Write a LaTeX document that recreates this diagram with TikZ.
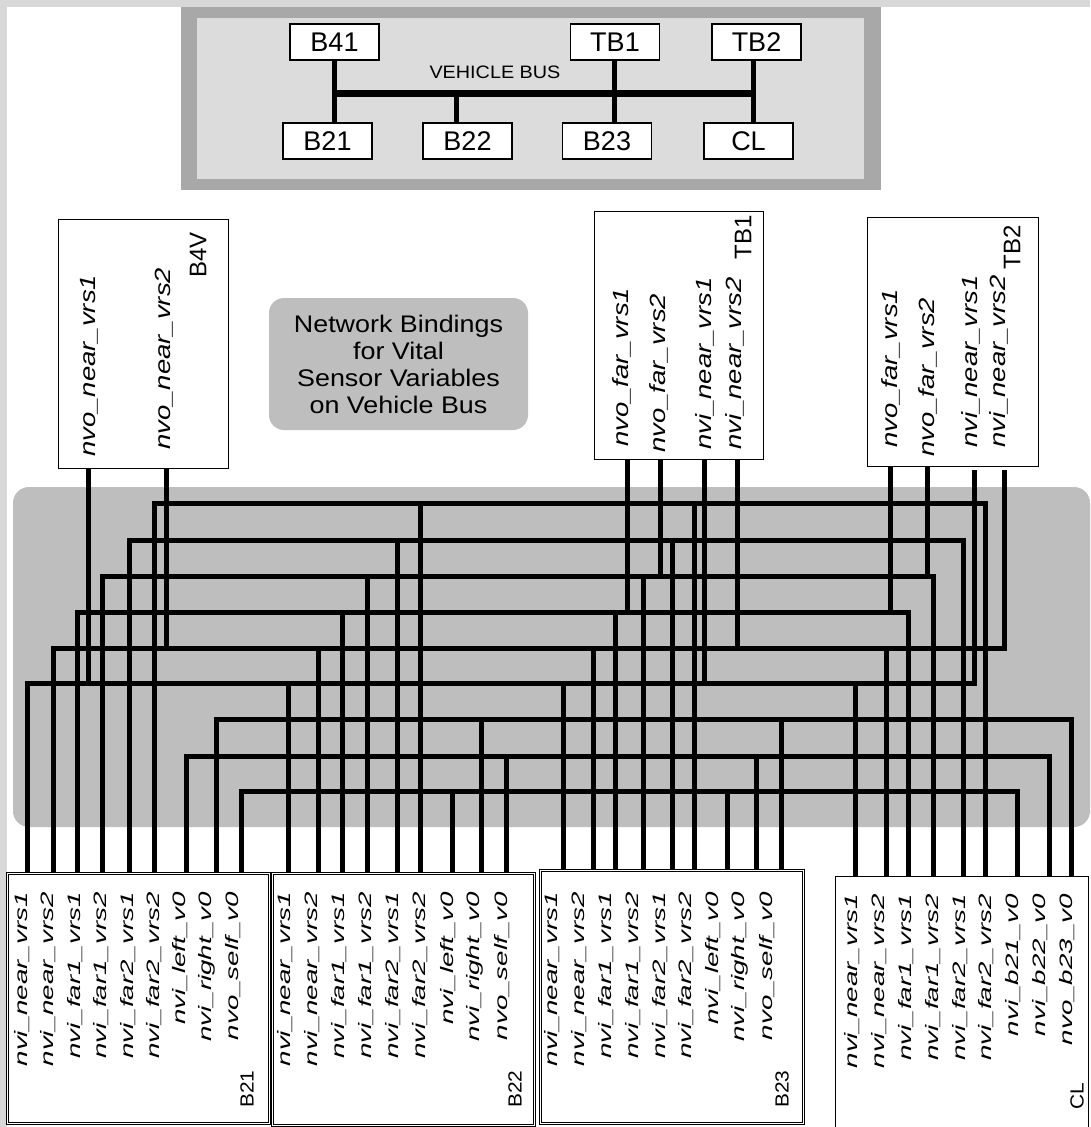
\documentclass[tikz,border=0pt]{standalone}
\usepackage{fontspec}
\setmainfont{Liberation Sans}
\usepackage{graphicx}
\definecolor{regiongray}{HTML}{BEBEBE}
\definecolor{paneldark}{HTML}{A8A8A8}
\definecolor{panellight}{HTML}{DCDCDC}
\definecolor{margingray}{HTML}{D8D8D8}
\newcommand\sx[2]{\scalebox{#1}[1]{#2}}
\begin{document}
\begin{tikzpicture}[x=1pt,y=-1pt,
  wire/.style={line width=5pt,line join=miter},
  box/.style={draw,line width=1.4pt,fill=white,inner sep=0pt,anchor=north west},
  dbox/.style={box,line width=0.8pt,double,double distance=0.9pt},
  tbox/.style={draw,line width=1.3pt,fill=white,inner sep=0pt,minimum width=89pt,minimum height=36pt,font=\fontsize{27}{27}\selectfont},
  blab/.style={rotate=90,anchor=east,inner sep=0pt,font=\fontsize{18}{18}\selectfont\itshape},
  mlab/.style={rotate=90,anchor=west,inner sep=0pt,font=\fontsize{22}{22}\selectfont\itshape},
  bttl/.style={rotate=90,anchor=west,inner sep=0pt,font=\fontsize{19}{19}\selectfont},
  mttl/.style={rotate=90,anchor=east,inner sep=0pt,font=\fontsize{24}{24}\selectfont}]
\useasboundingbox (0,0) rectangle (1090,1127);
% background
\fill[margingray] (0,0) rectangle (1090,1127);
\fill[white] (7,7) rectangle (1090,1127);

% ---------- top panel ----------
\fill[paneldark] (181,7) rectangle (881,190);
\fill[panellight] (197,18) rectangle (864,179);
\node[tbox] (tB41) at (334.5,42) {B41};
\node[tbox] (tTB1) at (615,42) {TB1};
\node[tbox] (tTB2) at (756.5,42) {TB2};
\node[tbox] (tB21) at (327.5,141) {B21};
\node[tbox] (tB22) at (467.5,141) {B22};
\node[tbox] (tB23) at (607,141) {B23};
\node[tbox] (tCL) at (748.5,141) {CL};
\coordinate (busL) at (334,93);
\coordinate (busR) at (754,93);
\draw[line width=7pt] (busL) -- (busR);
\draw[line width=5pt] (334,0 |- tB41.south) -- (334,0 |- tB21.north);
\draw[line width=5pt] (456,93) -- (456,0 |- tB22.north);
\draw[line width=5pt] (614,0 |- tTB1.south) -- (614,0 |- tB23.north);
\draw[line width=5pt] (753,0 |- tTB2.south) -- (753,0 |- tCL.north);
\node[font=\fontsize{18}{18}\selectfont] (vb) at (495,72) {\sx{1.1}{VEHICLE BUS}};

% ---------- routing region ----------
\fill[regiongray,rounded corners=16pt] (13,487) rectangle (1090,827);

% ---------- boxes ----------
\node[box,minimum width=170pt,minimum height=249pt] (B4V) at (58,219) {};
\node[box,minimum width=169pt,minimum height=248pt] (TB1) at (594,211) {};
\node[box,minimum width=171pt,minimum height=249pt] (TB2) at (867,217) {};
\node[dbox,minimum width=262pt,minimum height=250pt] (B21) at (7,873) {};
\node[dbox,minimum width=262pt,minimum height=252pt] (B22) at (272,873) {};
\node[dbox,minimum width=263pt,minimum height=253pt] (B23) at (540,870) {};
\node[box,minimum width=253pt,minimum height=262pt] (CL) at (835,876) {};
\coordinate (tbin1) at (974,470);
\coordinate (tbin2) at (1004,470);

% ---------- nets ----------
% near_vrs1 (y=683)
\draw[wire] (27,0 |- B21.north) -- (27,683) -- (974,683) -- (tbin1);
\draw[wire] (88,0 |- B4V.south) -- (88,683);
\draw[wire] (704,0 |- TB1.south) -- (704,683);
\foreach \x/\n in {288/B22,563/B23,855/CL} \draw[wire] (\x,683) -- (\x,0 |- \n.north);
% near_vrs2 (y=648)
\draw[wire] (53,0 |- B21.north) -- (53,648) -- (1004,648) -- (tbin2);
\draw[wire] (166,0 |- B4V.south) -- (166,648);
\draw[wire] (737,0 |- TB1.south) -- (737,648);
\foreach \x/\n in {318/B22,593/B23,886/CL} \draw[wire] (\x,648) -- (\x,0 |- \n.north);
% y=612
\draw[wire] (77,0 |- B21.north) -- (77,612) -- (908,612) -- (908,0 |- CL.north);
\draw[wire] (627,0 |- TB1.south) -- (627,612);
\draw[wire] (890,0 |- TB2.south) -- (890,612);
\foreach \x/\n in {342/B22,615/B23} \draw[wire] (\x,612) -- (\x,0 |- \n.north);
% y=576
\draw[wire] (102,0 |- B21.north) -- (102,576) -- (933,576) -- (933,0 |- CL.north);
\draw[wire] (660,0 |- TB1.south) -- (660,576);
\draw[wire] (927,0 |- TB2.south) -- (927,576);
\foreach \x/\n in {367/B22,643/B23} \draw[wire] (\x,576) -- (\x,0 |- \n.north);
% y=540
\draw[wire] (129,0 |- B21.north) -- (129,540) -- (963,540) -- (963,0 |- CL.north);
\foreach \x/\n in {397/B22,672/B23} \draw[wire] (\x,540) -- (\x,0 |- \n.north);
% y=503
\draw[wire] (154,0 |- B21.north) -- (154,503) -- (985,503) -- (985,0 |- CL.north);
\foreach \x/\n in {420/B22,694/B23} \draw[wire] (\x,503) -- (\x,0 |- \n.north);
% y=719
\draw[wire] (216,0 |- B21.north) -- (216,719) -- (1071,719) -- (1071,0 |- CL.north);
\foreach \x/\n in {481/B22,781/B23} \draw[wire] (\x,719) -- (\x,0 |- \n.north);
% y=756
\draw[wire] (186,0 |- B21.north) -- (186,756) -- (1049,756) -- (1049,0 |- CL.north);
\foreach \x/\n in {506/B22,756/B23} \draw[wire] (\x,756) -- (\x,0 |- \n.north);
% y=791
\draw[wire] (241,0 |- B21.north) -- (241,791) -- (1017,791) -- (1017,0 |- CL.north);
\foreach \x/\n in {452/B22,727/B23} \draw[wire] (\x,791) -- (\x,0 |- \n.north);

% ---------- middle labels ----------
\node[mlab] (l41a) at (89,457) {\sx{1.25}{nvo\_near\_vrs1}};
\node[mlab] (l41b) at (164,450) {\sx{1.25}{nvo\_near\_vrs2}};
\node[mttl] (t41) at (198,232) {B4V};
\node[mlab] (lt1a) at (622,447) {\sx{1.25}{nvo\_far\_vrs1}};
\node[mlab] (lt1b) at (659,453) {\sx{1.25}{nvo\_far\_vrs2}};
\node[mlab] (lt1c) at (705,450) {\sx{1.25}{nvi\_near\_vrs1}};
\node[mlab] (lt1d) at (735,450) {\sx{1.25}{nvi\_near\_vrs2}};
\node[mttl] (tt1) at (743,215) {TB1};
\node[mlab] (lt2a) at (891,448) {\sx{1.25}{nvo\_far\_vrs1}};
\node[mlab] (lt2b) at (928,457) {\sx{1.25}{nvo\_far\_vrs2}};
\node[mlab] (lt2c) at (971,448) {\sx{1.25}{nvi\_near\_vrs1}};
\node[mlab] (lt2d) at (999,448) {\sx{1.25}{nvi\_near\_vrs2}};
\node[mttl] (tt2) at (1012,225) {TB2};

% ---------- bottom labels ----------
\foreach \t [count=\i] in {nvi\_near\_vrs1,nvi\_near\_vrs2,nvi\_far1\_vrs1,nvi\_far1\_vrs2,nvi\_far2\_vrs1,nvi\_far2\_vrs2,nvi\_left\_v0,nvi\_right\_v0,nvo\_self\_v0}{
  \node[blab] (b21l\i) at ({22+26.4*(\i-1)},892) {\sx{1.54}{\t}};
  \node[blab] (b22l\i) at ({285+27.1*(\i-1)},892) {\sx{1.54}{\t}};
  \node[blab] (b23l\i) at ({552+26.9*(\i-1)},892) {\sx{1.54}{\t}};
}
\foreach \t [count=\i] in {nvi\_near\_vrs1,nvi\_near\_vrs2,nvi\_far1\_vrs1,nvi\_far1\_vrs2,nvi\_far2\_vrs1,nvi\_far2\_vrs2,nvi\_b21\_v0,nvi\_b22\_v0,nvo\_b23\_v0}{
  \node[blab] (cll\i) at ({852+26.9*(\i-1)},894) {\sx{1.54}{\t}};
}
\node[bttl] (tb21) at (247,1108) {\sx{1.1}{B21}};
\node[bttl] (tb22) at (515,1108) {\sx{1.1}{B22}};
\node[bttl] (tb23) at (782,1108) {\sx{1.1}{B23}};
\node[bttl] (tcl) at (1077,1110) {\sx{1.1}{CL}};

% ---------- caption box ----------
\node[fill=regiongray,rounded corners=15pt,minimum width=259pt,minimum height=132pt,align=center,inner sep=0pt,font=\fontsize{24}{27}\selectfont] (nb) at (398.5,364) {\sx{1.12}{Network Bindings}\\\sx{1.12}{for Vital}\\\sx{1.12}{Sensor Variables}\\\sx{1.12}{on Vehicle Bus}};
\end{tikzpicture}
\end{document}
